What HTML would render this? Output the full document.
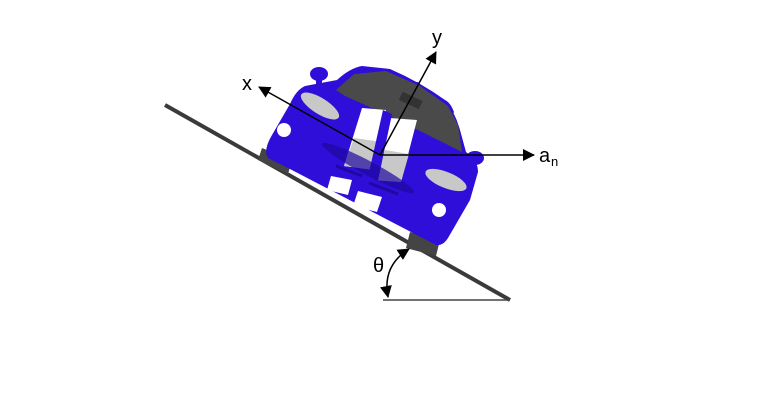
<!DOCTYPE html>
<html><head><meta charset="utf-8"><style>
html,body{margin:0;padding:0;background:#fff;}
svg{display:block;}
text{font-family:"Liberation Sans",sans-serif;}
</style></head><body>
<svg width="768" height="406" viewBox="0 0 768 406" xmlns="http://www.w3.org/2000/svg">
<defs>
<marker id="ah2" markerWidth="12" markerHeight="12" refX="11" refY="6" orient="auto" markerUnits="userSpaceOnUse">
<path d="M0,0 L12,6 L0,12 z" fill="#000"/></marker>
<marker id="ahs" markerWidth="12" markerHeight="12" refX="1" refY="6" orient="auto" markerUnits="userSpaceOnUse">
<path d="M12,0 L0,6 L12,12 z" fill="#000"/></marker>
</defs>
<line x1="165" y1="105" x2="510" y2="300" stroke="#3a3a3a" stroke-width="4"/>
<line x1="383" y1="300" x2="510" y2="300" stroke="#444" stroke-width="1.5"/>
<path d="M262,148 L292,160 L288,174 L258,160 Z" fill="#444"/>
<path d="M410,232 L440,240 L436,256 L406,248 Z" fill="#444"/>
<ellipse cx="319" cy="74" rx="9" ry="7" fill="#2e0ed8"/>
<rect x="316" y="76" width="6" height="10" fill="#2e0ed8"/>
<ellipse cx="475" cy="158" rx="9" ry="7" fill="#2e0ed8"/>
<rect x="407" y="82" width="13" height="12" rx="3" fill="#2e0ed8"/>
<path d="M437,100 Q448,96 454,112 L450,120 L438,112 Z" fill="#2e0ed8"/>
<path d="M305,86 L337,80 Q350,68 362,66 L390,69 Q420,82 445,100 Q455,112 460,130 L466,152 Q478,160 478,172 L470,200 L448,238 Q443,246 436,245 L288,168 L268,158 Q263,150 272,135 L290,104 Q296,90 305,86 Z" fill="#2e0ed8"/>
<path d="M336,90 L354,74 L386,71 L420,86 L448,106 L458,125 L462,152 L430,136 L390,116 L345,96 Z" fill="#4a4a4a"/>
<rect x="400" y="96" width="22" height="9" fill="#333" transform="rotate(25 411 100)"/>
<path d="M362,108 L386,110 L374,170 L344,166 Z" fill="#fff"/>
<path d="M390,118 L417,120 L401,182 L372,180 Z" fill="#fff"/>
<path d="M354,138 L382,142 L374,170 L344,166 Z" fill="#c8c8c8"/>
<path d="M385,150 L409,154 L401,182 L372,180 Z" fill="#c8c8c8"/>
<path d="M383,110 L392,114 L376,190 L366,186 Z" fill="#2e0ed8"/>
<path d="M331,176 L352,180 L348,195 L327,190 Z" fill="#fff"/>
<path d="M358,191 L382,197 L377,212 L353,206 Z" fill="#fff"/>
<ellipse cx="368" cy="168" rx="52" ry="7" fill="#2008a0" opacity="0.7" transform="rotate(28 368 168)"/>
<line x1="336" y1="166" x2="362" y2="176" stroke="#2008a0" stroke-width="3"/>
<line x1="369" y1="183" x2="398" y2="194" stroke="#2008a0" stroke-width="3"/>
<ellipse cx="320" cy="106" rx="22" ry="8" fill="#c8c8c8" transform="rotate(32 320 106)"/>
<ellipse cx="446" cy="180" rx="22" ry="8" fill="#c8c8c8" transform="rotate(22 446 180)"/>
<circle cx="284" cy="130" r="7" fill="#fff"/>
<circle cx="439" cy="210" r="7" fill="#fff"/>
<line x1="380" y1="155" x2="436" y2="52" stroke="#000" stroke-width="1.5" marker-end="url(#ah2)"/>
<line x1="380" y1="155" x2="259" y2="87" stroke="#000" stroke-width="1.5" marker-end="url(#ah2)"/>
<line x1="380" y1="155" x2="534" y2="155" stroke="#000" stroke-width="1.5" marker-end="url(#ah2)"/>
<text x="432" y="44" font-size="20">y</text>
<text x="242" y="90" font-size="20">x</text>
<text x="539" y="162" font-size="20">a</text>
<text x="551" y="166" font-size="13">n</text>
<path d="M409,249 Q382,266 388,297" fill="none" stroke="#000" stroke-width="1.5" marker-start="url(#ahs)" marker-end="url(#ah2)"/>
<text x="373" y="272" font-size="20">θ</text>
</svg>
</body></html>
